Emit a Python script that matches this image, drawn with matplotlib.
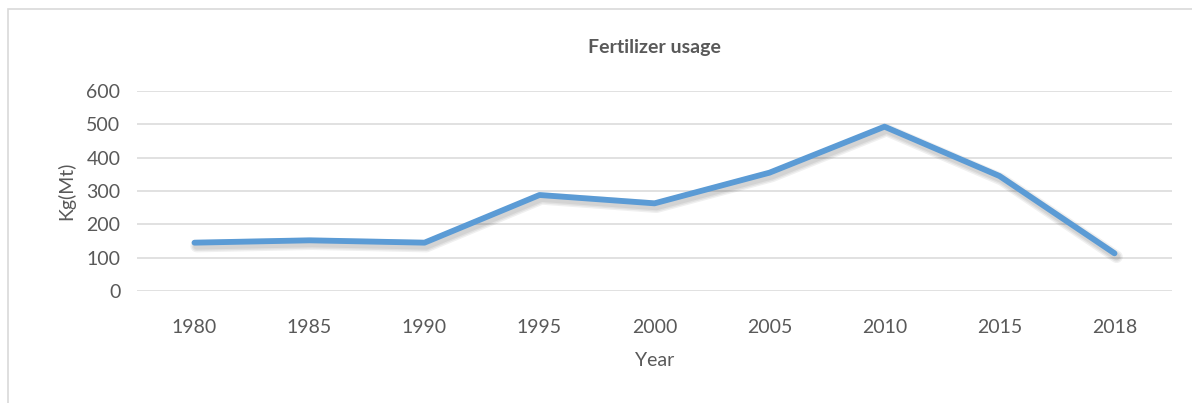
import matplotlib
matplotlib.use("Agg")
import matplotlib.pyplot as plt
import matplotlib.patheffects as pe
from matplotlib.patches import Rectangle

years = ["1980", "1985", "1990", "1995", "2000", "2005", "2010", "2015", "2018"]
usage = [145, 152, 145, 288, 263, 355, 493, 345, 113]
y_ticks = [0, 100, 200, 300, 400, 500, 600]

plt.rcParams["font.family"] = ["Lato", "DejaVu Sans"]
text_color = "#595959"

fig = plt.figure(figsize=(11.92, 4.03), dpi=100)
ax = fig.add_axes([137 / 1192, 1 - 291 / 403, (1172 - 137) / 1192, 200 / 403])

x = list(range(len(years)))
# soft shadow: a few wide translucent strokes under the line
shadow = [pe.SimpleLineShadow(offset=(1.5, -2.5), shadow_color="black", alpha=0.06,
                              linewidth=w) for w in (9, 7, 5)]
ax.plot(x, usage, color="#5B9BD5", linewidth=4.2, solid_capstyle="round",
        solid_joinstyle="round", path_effects=shadow + [pe.Normal()])

ax.set_xlim(-0.5, len(years) - 0.5)
ax.set_ylim(0, 600)
ax.set_xticks(x)
ax.set_xticklabels(years)
ax.set_yticks(y_ticks)
ax.tick_params(axis="both", length=0, labelsize=14, colors=text_color)
ax.tick_params(axis="x", pad=20)
ax.tick_params(axis="y", pad=12)
ax.grid(axis="y", color="#D9D9D9", linewidth=1.1)
ax.set_axisbelow(True)
for s in ax.spines.values():
    s.set_visible(False)

ax.set_xlabel("Year", fontsize=14, color=text_color, labelpad=12)
ax.set_ylabel("Kg(Mt)", fontsize=14, color=text_color, labelpad=8)
fig.text(0.5 * (137 + 1172) / 1192, 1 - 47 / 403, "Fertilizer usage", ha="center",
         va="center", fontsize=14, fontweight="bold", color=text_color)

fig.patches.append(Rectangle((8 / 1192, -0.1), 1.2, 1 - 9 / 403 + 0.1,
                             transform=fig.transFigure, fill=False,
                             edgecolor="#D9D9D9", linewidth=1.2))

fig.savefig("out.png", dpi=100)
